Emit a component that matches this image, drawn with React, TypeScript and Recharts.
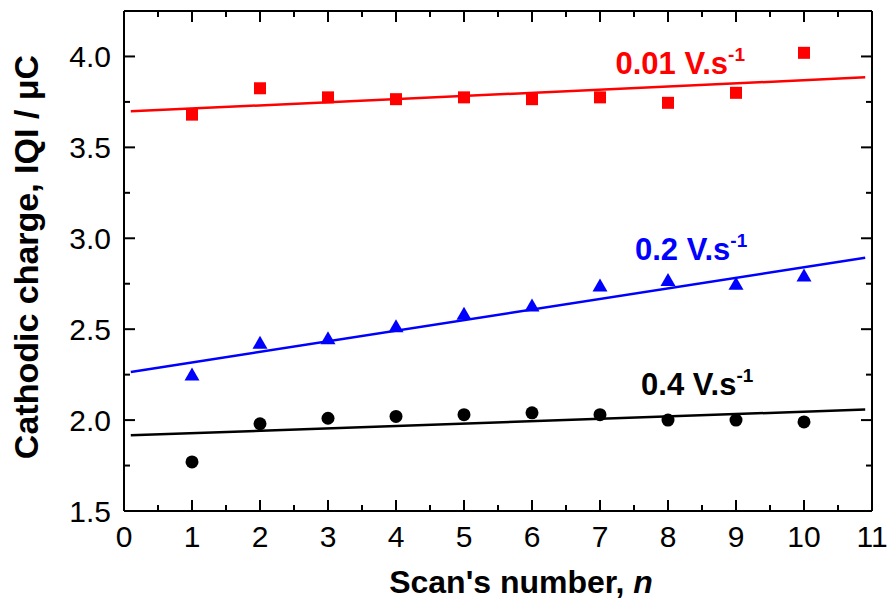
import React from "react";
import {
  ComposedChart,
  Scatter,
  Line,
  XAxis,
  YAxis,
  ReferenceDot,
} from "recharts";

// scan numbers
const scans = [1, 2, 3, 4, 5, 6, 7, 8, 9, 10];

// cathodic charge |Q| (uC) per scan rate
const q001 = [3.68, 3.825, 3.775, 3.765, 3.775, 3.765, 3.775, 3.745, 3.8, 4.02];
const q02 = [2.245, 2.42, 2.445, 2.51, 2.58, 2.625, 2.735, 2.765, 2.745, 2.79];
const q04 = [1.77, 1.98, 2.01, 2.02, 2.03, 2.04, 2.03, 2.0, 2.0, 1.99];

// linear fits (start / end)
const fitX = [0.1, 10.9];
const fit001 = [3.698, 3.885];
const fit02 = [2.265, 2.893];
const fit04 = [1.916, 2.058];

const xTicks = [0, 0.5, 1, 1.5, 2, 2.5, 3, 3.5, 4, 4.5, 5, 5.5, 6, 6.5, 7, 7.5, 8, 8.5, 9, 9.5, 10, 10.5, 11];
const yTicks = [1.5, 1.75, 2, 2.25, 2.5, 2.75, 3, 3.25, 3.5, 3.75, 4, 4.25];

const FONT = "'Liberation Sans', Arial, sans-serif";

const toPoints = (xs: number[], ys: number[]) => xs.map((x, i) => ({ x, y: ys[i] }));

const isMajorX = (v: number) => Math.abs(v - Math.round(v)) < 1e-6;
const isMajorY = (v: number) => Math.abs(v * 2 - Math.round(v * 2)) < 1e-6;

const BottomTick = (props: any) => {
  const { x, y, payload } = props;
  const major = isMajorX(payload.value);
  return (
    <g>
      <line x1={x} y1={y} x2={x} y2={y - (major ? 11 : 6)} stroke="#000" strokeWidth={2} />
      {major && (
        <text x={x} y={y + 36} textAnchor="middle" fontSize={30} fontFamily={FONT} fill="#000">
          {payload.value}
        </text>
      )}
    </g>
  );
};

const TopTick = (props: any) => {
  const { x, y, payload } = props;
  const major = isMajorX(payload.value);
  return <line x1={x} y1={y} x2={x} y2={y + (major ? 11 : 6)} stroke="#000" strokeWidth={2} />;
};

const LeftTick = (props: any) => {
  const { x, y, payload } = props;
  const major = isMajorY(payload.value);
  return (
    <g>
      <line x1={x} y1={y} x2={x + (major ? 11 : 6)} y2={y} stroke="#000" strokeWidth={2} />
      {major && (
        <text x={x - 13} y={y + 10.5} textAnchor="end" fontSize={30} fontFamily={FONT} fill="#000">
          {payload.value.toFixed(1)}
        </text>
      )}
    </g>
  );
};

const RightTick = (props: any) => {
  const { x, y, payload } = props;
  const major = isMajorY(payload.value);
  return <line x1={x} y1={y} x2={x - (major ? 11 : 6)} y2={y} stroke="#000" strokeWidth={2} />;
};

const Square = (props: any) => (
  <rect x={props.cx - 6} y={props.cy - 6} width={12} height={12} fill="#ff0000" />
);
const Triangle = (props: any) => (
  <polygon
    points={`${props.cx},${props.cy - 8} ${props.cx + 7.5},${props.cy + 5} ${props.cx - 7.5},${props.cy + 5}`}
    fill="#0000ff"
  />
);
const Circle = (props: any) => <circle cx={props.cx} cy={props.cy} r={6.5} fill="#000" />;

const rateLabel = (text: string, color: string) => (p: any) => {
  const vb = p.viewBox;
  return (
    <text
      x={vb.x + vb.width / 2}
      y={vb.y + vb.height / 2}
      textAnchor="middle"
      fontSize={31}
      fontWeight="bold"
      fontFamily={FONT}
      fill={color}
    >
      {text}
      <tspan dy={-13} fontSize={19}>-1</tspan>
    </text>
  );
};

const XTitle = (p: any) => {
  const vb = p.viewBox;
  return (
    <text x={vb.x + vb.width / 2 + 23} y={vb.y + 82} textAnchor="middle" fontSize={32} fontWeight="bold" fontFamily={FONT} fill="#000">
      Scan's number, <tspan fontStyle="italic">n</tspan>
    </text>
  );
};

const YTitle = (p: any) => {
  const vb = p.viewBox;
  const cy = vb.y + vb.height / 2 - 4;
  return (
    <text x={38} y={cy} transform={`rotate(-90 38 ${cy})`} textAnchor="middle" fontSize={34} fontWeight="bold" fontFamily={FONT} fill="#000">
      Cathodic charge, IQI / μC
    </text>
  );
};

export default function App() {
  return (
    <div style={{ position: "absolute", left: 0, top: 0, background: "#fff" }}>
      <ComposedChart width={892} height={601} margin={{ top: 10, right: 19, bottom: 0, left: 0 }}>
        <XAxis
          dataKey="x"
          type="number"
          domain={[0, 11]}
          allowDataOverflow
          ticks={xTicks}
          interval={0}
          height={90}
          tickSize={0}
          tickMargin={0}
          tickLine={false}
          tick={<BottomTick />}
          axisLine={{ stroke: "#000", strokeWidth: 2 }}
          label={{ content: <XTitle /> }}
        />
        <XAxis
          xAxisId="top"
          orientation="top"
          dataKey="x"
          type="number"
          domain={[0, 11]}
          allowDataOverflow
          ticks={xTicks}
          interval={0}
          height={1}
          tickSize={0}
          tickMargin={0}
          tickLine={false}
          tick={<TopTick />}
          axisLine={{ stroke: "#000", strokeWidth: 2 }}
        />
        <YAxis
          dataKey="y"
          type="number"
          domain={[1.5, 4.25]}
          allowDataOverflow
          ticks={yTicks}
          interval={0}
          width={124}
          tickSize={0}
          tickMargin={0}
          tickLine={false}
          tick={<LeftTick />}
          axisLine={{ stroke: "#000", strokeWidth: 2 }}
          label={{ content: <YTitle /> }}
        />
        <YAxis
          yAxisId="right"
          orientation="right"
          dataKey="y"
          type="number"
          domain={[1.5, 4.25]}
          allowDataOverflow
          ticks={yTicks}
          interval={0}
          width={1}
          tickSize={0}
          tickMargin={0}
          tickLine={false}
          tick={<RightTick />}
          axisLine={{ stroke: "#000", strokeWidth: 2 }}
        />

        {/* transparent series that keeps the mirrored top / right frame axes alive */}
        <Line
          xAxisId="top"
          yAxisId="right"
          data={toPoints(fitX, fit04)}
          dataKey="y"
          stroke="none"
          strokeOpacity={0}
          dot={false}
          activeDot={false}
          legendType="none"
          isAnimationActive={false}
        />

        <Line data={toPoints(fitX, fit001)} dataKey="y" stroke="#ff0000" strokeWidth={2.5} dot={false} isAnimationActive={false} />
        <Line data={toPoints(fitX, fit02)} dataKey="y" stroke="#0000ff" strokeWidth={2.5} dot={false} isAnimationActive={false} />
        <Line data={toPoints(fitX, fit04)} dataKey="y" stroke="#000000" strokeWidth={2.5} dot={false} isAnimationActive={false} />

        <Scatter data={toPoints(scans, q001)} dataKey="y" shape={<Square />} isAnimationActive={false} />
        <Scatter data={toPoints(scans, q02)} dataKey="y" shape={<Triangle />} isAnimationActive={false} />
        <Scatter data={toPoints(scans, q04)} dataKey="y" shape={<Circle />} isAnimationActive={false} />

        <ReferenceDot x={8.18} y={3.905} r={1} fill="none" stroke="none" label={{ content: rateLabel("0.01 V.s", "#ff0000") }} />
        <ReferenceDot x={8.34} y={2.88} r={1} fill="none" stroke="none" label={{ content: rateLabel("0.2 V.s", "#0000ff") }} />
        <ReferenceDot x={8.43} y={2.14} r={1} fill="none" stroke="none" label={{ content: rateLabel("0.4 V.s", "#000000") }} />
      </ComposedChart>
    </div>
  );
}
